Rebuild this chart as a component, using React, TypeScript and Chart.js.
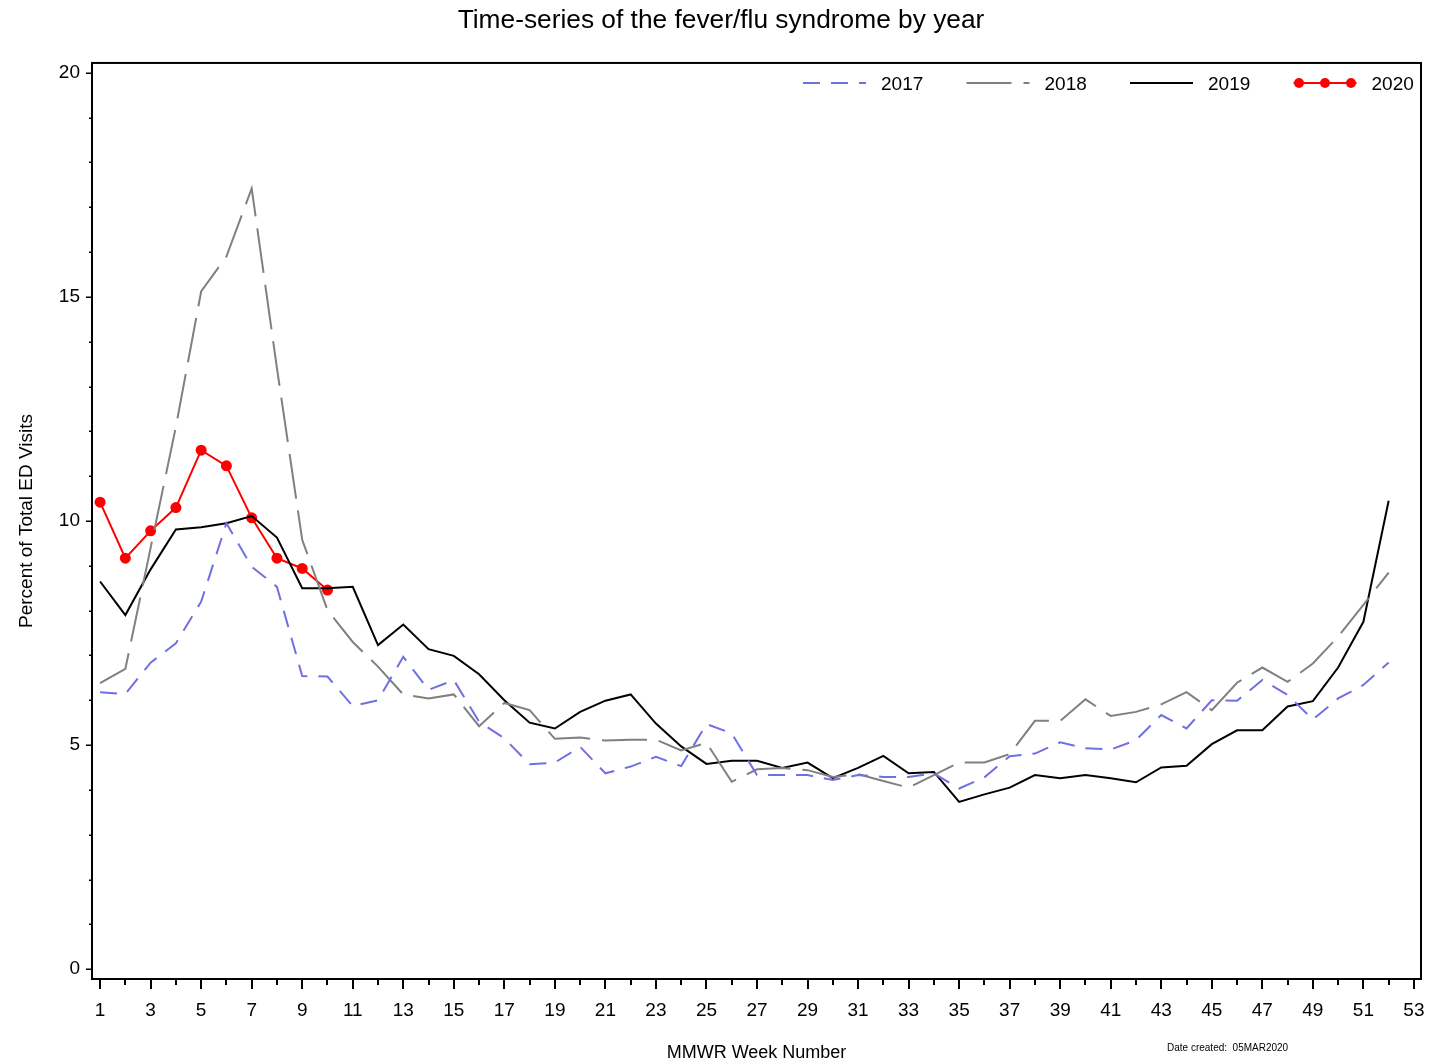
import React, { useEffect, useRef } from 'react';
import { Chart, registerables } from 'chart.js';

Chart.register(...registerables);

const FONT = "'Liberation Sans', Arial, sans-serif";

const weeks = [
  1, 2, 3, 4, 5, 6, 7, 8, 9, 10, 11, 12, 13, 14, 15, 16, 17, 18, 19, 20, 21, 22, 23, 24, 25, 26,
  27, 28, 29, 30, 31, 32, 33, 34, 35, 36, 37, 38, 39, 40, 41, 42, 43, 44, 45, 46, 47, 48, 49, 50, 51, 52,
];

const weeks2020 = [1, 2, 3, 4, 5, 6, 7, 8, 9, 10];

const values2017 = [
  6.18, 6.14, 6.84, 7.27, 8.2, 9.95, 8.98, 8.53, 6.54, 6.53, 5.87, 6.0, 6.97, 6.23, 6.45, 5.52, 5.15, 4.57,
  4.61, 4.96, 4.37, 4.52, 4.74, 4.53, 5.47, 5.26, 4.33, 4.33, 4.33, 4.22, 4.33, 4.29, 4.29, 4.37, 4.03, 4.28,
  4.75, 4.81, 5.06, 4.93, 4.9, 5.11, 5.67, 5.37, 6.0, 5.99, 6.45, 6.12, 5.57, 6.04, 6.34, 6.84,
];

const values2018 = [
  6.38, 6.7, 9.4, 12.1, 15.12, 15.9, 17.42, 13.41, 9.58, 8.01, 7.3, 6.75, 6.13, 6.04, 6.13, 5.42, 5.94, 5.78,
  5.14, 5.17, 5.1, 5.12, 5.12, 4.88, 5.05, 4.18, 4.46, 4.49, 4.44, 4.29, 4.35, 4.2, 4.05, 4.33, 4.61, 4.61,
  4.8, 5.54, 5.54, 6.02, 5.65, 5.74, 5.91, 6.18, 5.78, 6.39, 6.73, 6.41, 6.82, 7.42, 8.13, 8.85,
];

const values2019 = [
  8.65, 7.9, 8.92, 9.81, 9.86, 9.95, 10.11, 9.63, 8.5, 8.5, 8.53, 7.23, 7.69, 7.14, 6.99, 6.58, 6.0, 5.5,
  5.37, 5.74, 5.99, 6.13, 5.48, 4.97, 4.58, 4.65, 4.65, 4.49, 4.61, 4.26, 4.49, 4.76, 4.37, 4.4, 3.73, 3.9,
  4.05, 4.33, 4.26, 4.33, 4.26, 4.17, 4.5, 4.54, 5.02, 5.33, 5.33, 5.86, 5.98, 6.73, 7.75, 10.45,
];

const values2020 = [10.42, 9.17, 9.78, 10.3, 11.58, 11.23, 10.07, 9.17, 8.94, 8.46];

const xTickWeeks = [
  1, 2, 3, 4, 5, 6, 7, 8, 9, 10, 11, 12, 13, 14, 15, 16, 17, 18, 19, 20, 21, 22, 23, 24, 25, 26, 27,
  28, 29, 30, 31, 32, 33, 34, 35, 36, 37, 38, 39, 40, 41, 42, 43, 44, 45, 46, 47, 48, 49, 50, 51, 52, 53,
];
const yTickValues = [0, 1, 2, 3, 4, 5, 6, 7, 8, 9, 10, 11, 12, 13, 14, 15, 16, 17, 18, 19, 20];
const yLabelValues = [0, 5, 10, 15, 20];

const seriesNames = ['2017', '2018', '2019', '2020'];
const seriesColors = ['rgb(112,112,226)', '#808080', '#000000', '#ff0000'];
const seriesDashes = [[17, 11], [45, 12], [], []];

const titleText = 'Time-series of the fever/flu syndrome by year';
const xTitle = 'MMWR Week Number';
const yTitle = 'Percent of Total ED Visits';
const dateText = 'Date created:  05MAR2020';

const toPoints = (xs: number[], ys: number[]) => xs.map((x, i) => ({ x, y: ys[i] }));

const framePlugin = {
  id: 'frameAndTicks',
  afterDraw(chart: any) {
    const { ctx, chartArea: ca, scales } = chart;
    const x = scales.x;
    const y = scales.y;
    ctx.save();
    ctx.strokeStyle = '#000';
    ctx.lineWidth = 2;
    ctx.setLineDash([]);
    ctx.strokeRect(ca.left, ca.top, ca.right - ca.left, ca.bottom - ca.top);
    ctx.lineWidth = 2;
    ctx.beginPath();
    xTickWeeks.forEach((w) => {
      const px = Math.round(x.getPixelForValue(w));
      const len = w % 2 === 1 ? 10 : 6;
      ctx.moveTo(px, ca.bottom);
      ctx.lineTo(px, ca.bottom + len);
    });
    ctx.stroke();
    ctx.lineWidth = 1.5;
    ctx.beginPath();
    yTickValues.forEach((v) => {
      const py = Math.round(y.getPixelForValue(v)) + 0.25;
      const len = v % 5 === 0 ? 6 : 3;
      ctx.moveTo(ca.left, py);
      ctx.lineTo(ca.left - len, py);
    });
    ctx.stroke();

    // legend
    const legendY = ca.top + 20;
    const startX = ca.right - 618;
    const step = 163.5;
    ctx.font = `19px ${FONT}`;
    ctx.textBaseline = 'middle';
    ctx.textAlign = 'left';
    seriesNames.forEach((name, i) => {
      const lx = startX + i * step;
      ctx.strokeStyle = seriesColors[i];
      ctx.lineWidth = 2;
      ctx.setLineDash(seriesDashes[i]);
      ctx.beginPath();
      ctx.moveTo(lx, legendY);
      ctx.lineTo(lx + 63, legendY);
      ctx.stroke();
      ctx.setLineDash([]);
      if (i === 3) {
        ctx.fillStyle = seriesColors[i];
        [5.5, 31.5, 57.5].forEach((dx) => {
          ctx.beginPath();
          ctx.arc(lx + dx, legendY, 5, 0, Math.PI * 2);
          ctx.fill();
        });
      }
      ctx.fillStyle = '#000';
      ctx.fillText(name, lx + 78, legendY + 2);
    });

    // date created note
    ctx.font = `10px ${FONT}`;
    ctx.fillStyle = '#000';
    ctx.fillText(dateText, ca.right - 254, 1048);
    ctx.restore();
  },
};

export default function App() {
  const ref = useRef<HTMLCanvasElement | null>(null);

  useEffect(() => {
    if (!ref.current) return;
    const chart = new Chart(ref.current, {
      type: 'line',
      data: {
        datasets: [
          {
            label: seriesNames[0],
            data: toPoints(weeks, values2017),
            borderColor: seriesColors[0],
            borderWidth: 2,
            borderDash: seriesDashes[0],
            pointRadius: 0,
            tension: 0,
          },
          {
            label: seriesNames[1],
            data: toPoints(weeks, values2018),
            borderColor: seriesColors[1],
            borderWidth: 2,
            borderDash: seriesDashes[1],
            pointRadius: 0,
            tension: 0,
          },
          {
            label: seriesNames[2],
            data: toPoints(weeks, values2019),
            borderColor: seriesColors[2],
            borderWidth: 2,
            pointRadius: 0,
            tension: 0,
          },
          {
            label: seriesNames[3],
            data: toPoints(weeks2020, values2020),
            borderColor: seriesColors[3],
            backgroundColor: seriesColors[3],
            borderWidth: 2,
            pointRadius: 5.5,
            pointBorderWidth: 0,
            pointBackgroundColor: seriesColors[3],
            tension: 0,
          },
        ],
      },
      options: {
        responsive: false,
        animation: false,
        devicePixelRatio: 1,
        layout: { padding: { left: 21, right: 13, top: 0, bottom: 0 } },
        plugins: {
          legend: { display: false },
          tooltip: { enabled: false },
          title: {
            display: true,
            text: titleText,
            color: '#000',
            font: { family: FONT, size: 26.3, weight: 'normal' },
            padding: { top: 5.4, bottom: 26.0 },
          },
        },
        scales: {
          x: {
            type: 'linear',
            min: 0.68,
            max: 53.28,
            afterBuildTicks: (scale: any) => {
              scale.ticks = xTickWeeks.map((v) => ({ value: v }));
            },
            afterFit: (scale: any) => {
              scale.height = 84;
              scale.paddingLeft = 0;
              scale.paddingRight = 0;
            },
            grid: { display: false, drawTicks: false },
            border: { display: false },
            ticks: {
              autoSkip: false,
              maxRotation: 0,
              minRotation: 0,
              padding: 20,
              color: '#000',
              font: { family: FONT, size: 19 },
              callback: (v: any) => (Number(v) % 2 === 1 ? String(v) : ''),
            },
            title: {
              display: true,
              text: xTitle,
              color: '#000',
              font: { family: FONT, size: 18 },
              padding: { top: 0, bottom: -1 },
            },
          },
          y: {
            type: 'linear',
            min: -0.22,
            max: 20.22,
            afterBuildTicks: (scale: any) => {
              scale.ticks = yTickValues.map((v) => ({ value: v }));
            },
            afterFit: (scale: any) => {
              scale.width = 71;
              scale.paddingTop = 0;
              scale.paddingBottom = 0;
            },
            grid: { display: false, drawTicks: false },
            border: { display: false },
            ticks: {
              autoSkip: false,
              padding: 12,
              color: '#000',
              font: { family: FONT, size: 19 },
              callback: (v: any) => (yLabelValues.includes(Number(v)) ? String(v) : ''),
            },
            title: {
              display: true,
              text: yTitle,
              color: '#000',
              font: { family: FONT, size: 19 },
              padding: { top: -6, bottom: 0 },
            },
          },
        },
      },
      plugins: [framePlugin],
    } as any);
    return () => chart.destroy();
  }, []);

  return (
    <canvas
      ref={ref}
      width={1434}
      height={1063}
      style={{ position: 'absolute', left: 0, top: 0, display: 'block', background: '#fff' }}
    />
  );
}
